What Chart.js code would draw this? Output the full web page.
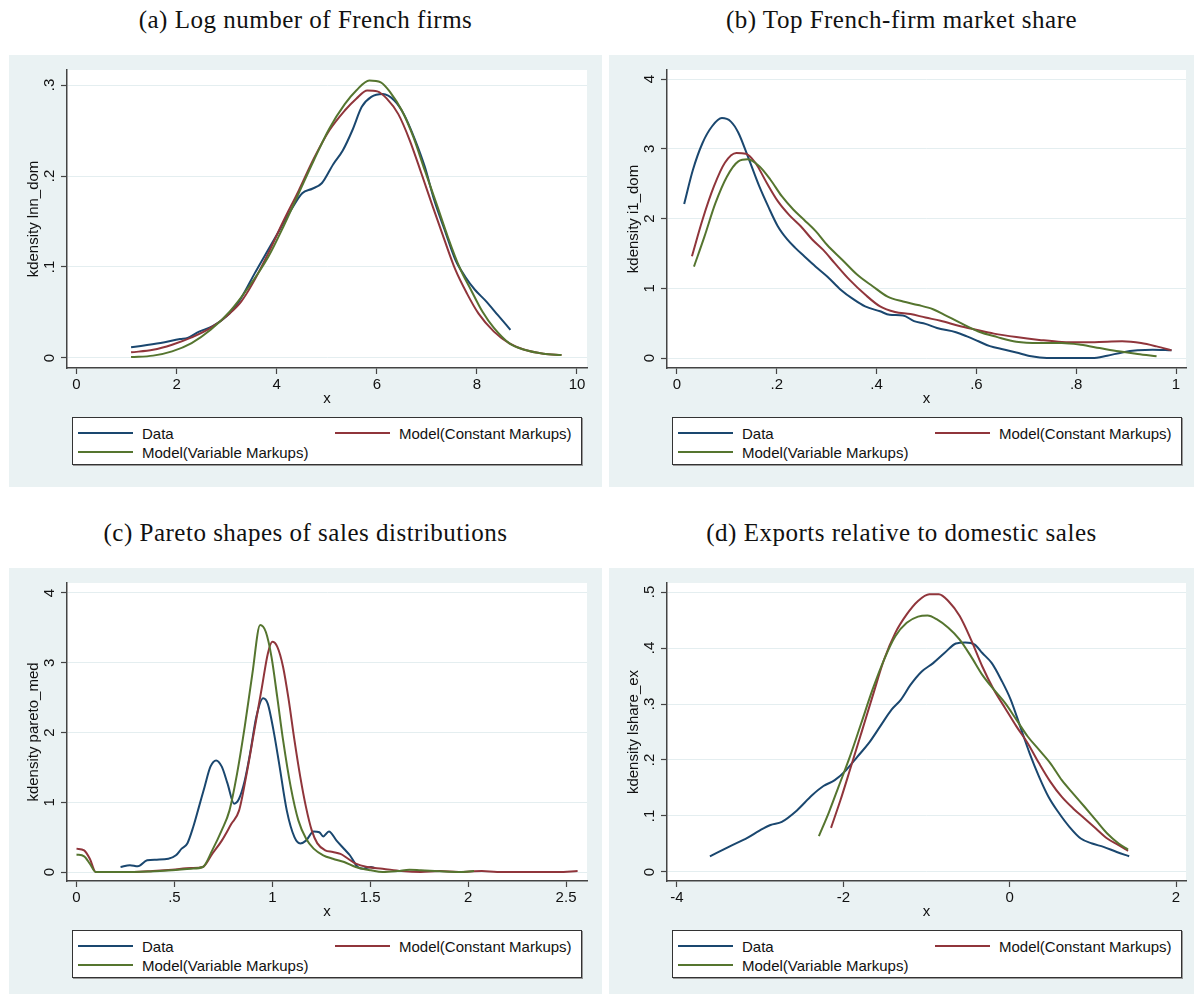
<!DOCTYPE html>
<html>
<head>
<meta charset="utf-8">
<script src="https://cdn.jsdelivr.net/npm/chart.js@4.4.0/dist/chart.umd.min.js"></script>
<style>
body { margin: 0; background: #fff; width: 1194px; height: 994px; position: relative; overflow: hidden; font-family: "Liberation Sans", Arial, sans-serif; }
.title { position: absolute; font-family: "Liberation Serif", serif; font-size: 25px; line-height: 25px; letter-spacing: .5px; text-align: center; color: #111; white-space: nowrap; }
.panel { position: absolute; background: #EAF2F3; }
.panel canvas { position: absolute; left: 0; top: 0; }
.legend { position: absolute; left: 63px; top: 362px; width: 508px; height: 46px; background: #fff; border: 1px solid #333; box-shadow: 1px 1px 0 #999; }
.item { position: absolute; font-size: 15px; line-height: 15px; color: #111; white-space: nowrap; }
.item span { position: absolute; left: 0; top: 6px; width: 55px; height: 2px; }
.item b { font-weight: normal; position: absolute; left: 64px; top: 0; }
</style>
</head>
<body>

<div class="title" style="left:9px;top:7px;width:593px">(a) Log number of French firms</div>
<div class="title" style="left:609px;top:7px;width:585px">(b) Top French-firm market share</div>
<div class="title" style="left:9px;top:520px;width:593px">(c) Pareto shapes of sales distributions</div>
<div class="title" style="left:609px;top:520px;width:585px">(d) Exports relative to domestic sales</div>

<div class="panel" id="pa" style="left:9px;top:55px;width:593px;height:432px"><canvas id="ca" width="593" height="360"></canvas></div>
<div class="panel" id="pb" style="left:609px;top:55px;width:585px;height:432px"><canvas id="cb" width="585" height="360"></canvas></div>
<div class="panel" id="pc" style="left:9px;top:568px;width:593px;height:426px"><canvas id="cc" width="593" height="360"></canvas></div>
<div class="panel" id="pd" style="left:609px;top:568px;width:585px;height:426px"><canvas id="cd" width="585" height="360"></canvas></div>

<script>
// legend names
const seriesNames = ['Data', 'Model(Constant Markups)', 'Model(Variable Markups)'];

// (a) kdensity lnn_dom
const firmsData = [[1.09,.0117],[1.68,.0164],[2.07,.0208],[2.22,.022],[2.45,.029],[2.72,.035],[3.06,.049],[3.29,.066],[3.56,.093],[3.83,.119],[4.06,.141],[4.28,.162],[4.51,.181],[4.71,.186],[4.90,.192],[5.13,.213],[5.32,.228],[5.51,.25],[5.70,.276],[5.89,.287],[6.12,.290],[6.35,.283],[6.54,.268],[6.77,.239],[6.96,.21],[7.15,.173],[7.38,.137],[7.57,.108],[7.77,.089],[7.96,.075],[8.19,.062],[8.42,.047],[8.67,.031]];
const firmsConst = [[1.09,.0062],[1.53,.009],[1.91,.0146],[2.30,.0226],[2.68,.033],[3.06,.049],[3.29,.062],[3.52,.082],[3.83,.115],[4.13,.150],[4.44,.184],[4.74,.219],[5.05,.25],[5.36,.272],[5.59,.285],[5.81,.294],[6.01,.293],[6.20,.285],[6.43,.268],[6.66,.239],[6.89,.203],[7.12,.166],[7.35,.130],[7.57,.097],[7.80,.071],[8.03,.049],[8.34,.029],[8.65,.016],[8.95,.009],[9.33,.0047],[9.69,.0033]];
const firmsVar = [[1.09,.001],[1.53,.0026],[1.91,.0073],[2.30,.0164],[2.68,.031],[3.06,.051],[3.44,.078],[3.83,.111],[4.13,.144],[4.44,.181],[4.74,.217],[5.05,.252],[5.36,.279],[5.59,.294],[5.85,.305],[6.08,.303],[6.27,.292],[6.50,.272],[6.73,.243],[6.96,.206],[7.19,.170],[7.42,.133],[7.65,.100],[7.88,.075],[8.11,.051],[8.34,.033],[8.65,.016],[8.95,.009],[9.33,.0047],[9.69,.0033]];
const firmsXTicks = [0, 2, 4, 6, 8, 10];
const firmsXLabels = ['0', '2', '4', '6', '8', '10'];
const firmsYTicks = [0, .1, .2, .3];
const firmsYLabels = ['0', '.1', '.2', '.3'];

// (b) kdensity i1_dom
const shareData = [[.0144,2.21],[.032,2.70],[.051,3.08],[.070,3.32],[.090,3.44],[.108,3.39],[.123,3.23],[.142,2.89],[.165,2.46],[.183,2.17],[.202,1.89],[.221,1.70],[.237,1.58],[.255,1.46],[.278,1.31],[.301,1.17],[.328,.98],[.354,.84],[.377,.74],[.407,.67],[.426,.62],[.453,.61],[.475,.53],[.498,.49],[.521,.43],[.559,.37],[.581,.31],[.604,.24],[.627,.17],[.657,.12],[.680,.08],[.710,.024],[.741,0],[.801,0],[.832,0],[.862,.033],[.892,.08],[.923,.11],[.953,.12],[.991,.11]];
const shareConst = [[.030,1.46],[.051,1.98],[.074,2.46],[.096,2.80],[.119,2.94],[.138,2.93],[.157,2.80],[.180,2.51],[.202,2.25],[.225,2.05],[.248,1.89],[.271,1.70],[.293,1.55],[.316,1.36],[.346,1.12],[.377,.91],[.407,.74],[.437,.66],[.468,.63],[.498,.58],[.528,.535],[.566,.46],[.597,.41],[.635,.35],[.680,.30],[.726,.26],[.771,.23],[.817,.225],[.862,.234],[.892,.239],[.930,.215],[.961,.167],[.991,.11]];
const shareVar = [[.034,1.31],[.055,1.74],[.077,2.22],[.100,2.60],[.123,2.82],[.142,2.85],[.165,2.75],[.187,2.56],[.210,2.32],[.233,2.13],[.255,1.98],[.278,1.82],[.301,1.62],[.331,1.41],[.362,1.19],[.392,1.03],[.422,.88],[.453,.81],[.483,.76],[.513,.70],[.536,.62],[.566,.51],[.604,.38],[.642,.30],[.680,.234],[.726,.215],[.771,.215],[.809,.19],[.847,.143],[.885,.096],[.923,.057],[.961,.024]];
const shareXTicks = [0, .2, .4, .6, .8, 1];
const shareXLabels = ['0', '.2', '.4', '.6', '.8', '1'];
const shareYTicks = [0, 1, 2, 3, 4];
const shareYLabels = ['0', '1', '2', '3', '4'];

// (c) kdensity pareto_med
const paretoData = [[.225,.072],[.273,.096],[.313,.081],[.361,.167],[.41,.177],[.469,.19],[.508,.24],[.537,.335],[.566,.41],[.596,.645],[.625,.93],[.654,1.22],[.684,1.51],[.713,1.60],[.742,1.51],[.771,1.27],[.805,.98],[.830,1.05],[.859,1.31],[.889,1.74],[.918,2.22],[.953,2.49],[.977,2.41],[1.006,2.03],[1.035,1.55],[1.074,.88],[1.113,.50],[1.143,.41],[1.172,.45],[1.211,.58],[1.24,.57],[1.26,.51],[1.289,.58],[1.328,.45],[1.367,.33],[1.396,.24],[1.436,.072],[1.465,.048],[1.504,.072],[1.52,.06]];
const paretoConst = [[0,.335],[.039,.31],[.068,.19],[.098,0],[.195,0],[.293,0],[.39,.014],[.488,.033],[.586,.057],[.645,.072],[.693,.26],[.742,.45],[.791,.69],[.830,.88],[.869,1.41],[.908,2.03],[.947,2.65],[.977,3.13],[1.0,3.30],[1.025,3.23],[1.055,2.94],[1.084,2.46],[1.113,1.89],[1.143,1.36],[1.172,.93],[1.201,.60],[1.23,.41],[1.27,.31],[1.309,.287],[1.348,.26],[1.387,.19],[1.426,.12],[1.484,.072],[1.563,.048],[1.66,.014],[1.758,0],[1.855,.014],[1.953,0],[2.07,.014],[2.148,0],[2.344,0],[2.46,0],[2.559,.014]];
const paretoVar = [[0,.25],[.039,.225],[.068,.12],[.098,0],[.293,0],[.488,.024],[.586,.048],[.645,.072],[.693,.31],[.742,.60],[.781,.88],[.820,1.41],[.859,2.08],[.898,2.84],[.938,3.54],[.967,3.44],[.996,3.08],[1.025,2.51],[1.055,1.89],[1.094,1.22],[1.133,.74],[1.172,.48],[1.211,.335],[1.26,.24],[1.309,.19],[1.367,.143],[1.426,.072],[1.504,.024],[1.563,0],[1.64,.014],[1.70,.033],[1.758,.024],[1.855,.01],[1.953,0],[2.03,.014]];
const paretoXTicks = [0, .5, 1, 1.5, 2, 2.5];
const paretoXLabels = ['0', '.5', '1', '1.5', '2', '2.5'];
const paretoYTicks = [0, 1, 2, 3, 4];
const paretoYLabels = ['0', '1', '2', '3', '4'];

// (d) kdensity lshare_ex
const exportData = [[-3.604,.028],[-3.377,.045],[-3.149,.0615],[-3.013,.0735],[-2.876,.084],[-2.74,.0896],[-2.558,.11],[-2.376,.137],[-2.239,.1535],[-2.103,.164],[-1.966,.182],[-1.83,.206],[-1.694,.23],[-1.557,.26],[-1.42,.29],[-1.307,.308],[-1.193,.334],[-1.057,.358],[-.92,.373],[-.784,.391],[-.647,.408],[-.533,.41],[-.42,.406],[-.329,.391],[-.215,.373],[-.101,.343],[.012,.308],[.126,.26],[.24,.212],[.354,.17],[.468,.134],[.582,.1075],[.718,.0806],[.855,.0597],[.991,.0508],[1.128,.0448],[1.287,.0358],[1.437,.028]];
const exportConst = [[-2.148,.0789],[-2.035,.128],[-1.921,.182],[-1.784,.248],[-1.648,.314],[-1.511,.379],[-1.375,.427],[-1.238,.46],[-1.102,.484],[-.965,.496],[-.852,.496],[-.738,.484],[-.601,.457],[-.465,.415],[-.329,.367],[-.192,.326],[-.056,.293],[.081,.26],[.217,.23],[.354,.194],[.49,.161],[.627,.134],[.763,.1135],[.9,.0956],[1.036,.0777],[1.173,.0597],[1.31,.0478],[1.423,.0376]];
const exportVar = [[-2.294,.064],[-2.171,.1075],[-2.058,.152],[-1.921,.206],[-1.784,.266],[-1.648,.326],[-1.511,.379],[-1.375,.421],[-1.238,.445],[-1.102,.456],[-.988,.458],[-.874,.451],[-.738,.436],[-.601,.415],[-.465,.385],[-.329,.352],[-.192,.326],[-.056,.302],[.081,.272],[.217,.242],[.354,.218],[.49,.194],[.627,.164],[.763,.14],[.9,.1165],[1.036,.0926],[1.173,.0687],[1.31,.0508],[1.423,.04]];
const exportXTicks = [-4, -2, 0, 2];
const exportXLabels = ['-4', '-2', '0', '2'];
const exportYTicks = [0, .1, .2, .3, .4, .5];
const exportYLabels = ['0', '.1', '.2', '.3', '.4', '.5'];

const lineColors = ['#1A476F', '#90353B', '#55752F'];
const tickFont = { family: '"Liberation Sans", Arial, sans-serif', size: 15 };
const axisColor = '#444';

// white plot region inside the grey graph region
const plotBackground = {
    id: 'plotBackground',
    beforeDraw(chart) {
        const { ctx, chartArea } = chart;
        ctx.save();
        ctx.fillStyle = '#fff';
        ctx.fillRect(chartArea.left, chartArea.top, chartArea.right - chartArea.left, chartArea.bottom - chartArea.top);
        ctx.restore();
    }
};

// Stata draws y tick labels turned 90 degrees
const rotatedYTicks = {
    id: 'rotatedYTicks',
    afterDraw(chart, args, opts) {
        const ctx = chart.ctx;
        const yScale = chart.scales.y;
        ctx.save();
        ctx.font = '15px "Liberation Sans", Arial, sans-serif';
        ctx.fillStyle = '#111';
        ctx.textAlign = 'center';
        ctx.textBaseline = 'middle';
        yScale.ticks.forEach((t, i) => {
            ctx.save();
            ctx.translate(chart.chartArea.left - 17.5, yScale.getPixelForValue(t.value));
            ctx.rotate(-Math.PI / 2);
            ctx.fillText(opts.labels[i], 0, 0);
            ctx.restore();
        });
        ctx.restore();
    }
};

function toPoints(arr) {
    return arr.map(p => ({ x: p[0], y: p[1] }));
}

function drawPanel(cfg) {
    const canvas = document.getElementById(cfg.canvas);
    const series = [cfg.data, cfg.constant, cfg.variable];

    new Chart(canvas.getContext('2d'), {
        type: 'line',
        data: {
            datasets: series.map((s, i) => ({
                label: seriesNames[i],
                data: toPoints(s),
                borderColor: lineColors[i],
                borderWidth: 2,
                pointRadius: 0,
                fill: false,
                cubicInterpolationMode: 'monotone',
                order: 2 - i
            }))
        },
        options: {
            responsive: false,
            animation: false,
            devicePixelRatio: 1,
            layout: { padding: { top: 15, right: cfg.rightPad, bottom: 0, left: 0 } },
            plugins: {
                legend: { display: false },
                tooltip: { enabled: false },
                rotatedYTicks: { labels: cfg.yLabels }
            },
            scales: {
                x: {
                    type: 'linear',
                    min: cfg.xMin,
                    max: cfg.xMax,
                    afterBuildTicks: scale => { scale.ticks = cfg.xTicks.map(v => ({ value: v })); },
                    afterFit: scale => { scale.height = 47; },
                    ticks: {
                        autoSkip: false,
                        maxRotation: 0,
                        padding: 2,
                        color: '#111',
                        font: tickFont,
                        callback: (value, index) => cfg.xLabels[index]
                    },
                    grid: { drawOnChartArea: false, tickLength: 6, tickColor: axisColor, tickWidth: 1.2 },
                    border: { color: axisColor, width: 1.5 },
                    title: { display: true, text: 'x', color: '#111', font: tickFont, padding: { top: 0, bottom: 7 } }
                },
                y: {
                    type: 'linear',
                    min: cfg.yMin,
                    max: cfg.yMax,
                    afterBuildTicks: scale => { scale.ticks = cfg.yTicks.map(v => ({ value: v })); },
                    afterFit: scale => { scale.width = 58; },
                    ticks: { display: false },
                    grid: { color: '#E4EEF0', lineWidth: 1, tickLength: 6, tickColor: axisColor, tickWidth: 1.2 },
                    border: { color: axisColor, width: 1.5 },
                    title: { display: true, text: cfg.yTitle, color: '#111', font: tickFont, padding: { top: 16, bottom: 0 } }
                }
            }
        },
        plugins: [plotBackground, rotatedYTicks]
    });

    // Stata-style boxed legend, two columns
    const box = document.createElement('div');
    box.className = 'legend';
    const slots = [[5, 8], [262, 8], [5, 27]];
    seriesNames.forEach((name, i) => {
        const item = document.createElement('div');
        item.className = 'item';
        item.style.left = slots[i][0] + 'px';
        item.style.top = slots[i][1] + 'px';
        item.innerHTML = '<span style="background:' + lineColors[i] + '"></span><b>' + name + '</b>';
        box.appendChild(item);
    });
    canvas.parentNode.appendChild(box);
}

drawPanel({ canvas: 'ca', data: firmsData, constant: firmsConst, variable: firmsVar,
    xTicks: firmsXTicks, xLabels: firmsXLabels, yTicks: firmsYTicks, yLabels: firmsYLabels,
    xMin: -0.19, xMax: 10.2, yMin: -0.011, yMax: 0.3165, yTitle: 'kdensity lnn_dom', rightPad: 15 });

drawPanel({ canvas: 'cb', data: shareData, constant: shareConst, variable: shareVar,
    xTicks: shareXTicks, xLabels: shareXLabels, yTicks: shareYTicks, yLabels: shareYLabels,
    xMin: -0.02, xMax: 1.02, yMin: -0.143, yMax: 4.13, yTitle: 'kdensity i1_dom', rightPad: 8 });

drawPanel({ canvas: 'cc', data: paretoData, constant: paretoConst, variable: paretoVar,
    xTicks: paretoXTicks, xLabels: paretoXLabels, yTicks: paretoYTicks, yLabels: paretoYLabels,
    xMin: -0.0485, xMax: 2.607, yMin: -0.129, yMax: 4.143, yTitle: 'kdensity pareto_med', rightPad: 15 });

drawPanel({ canvas: 'cd', data: exportData, constant: exportConst, variable: exportVar,
    xTicks: exportXTicks, xLabels: exportXLabels, yTicks: exportYTicks, yLabels: exportYLabels,
    xMin: -4.12, xMax: 2.12, yMin: -0.0161, yMax: 0.5161, yTitle: 'kdensity lshare_ex', rightPad: 8 });
</script>
</body>
</html>
